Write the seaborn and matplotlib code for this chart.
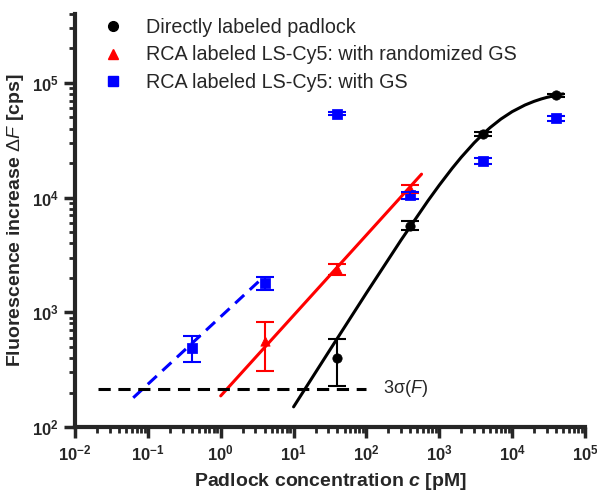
import numpy as np
import pandas as pd
import matplotlib
matplotlib.use("Agg")
import matplotlib.pyplot as plt
import seaborn as sns

# measured points
direct_c = [40, 400, 4000, 40000]
direct_f = [400, 5700, 36000, 78000]
direct_lo = [230, 5200, 34500, 75500]
direct_hi = [580, 6200, 37500, 80500]

rand_c = [4, 40, 400]
rand_f = [560, 2400, 12000]
rand_lo = [310, 2100, 11000]
rand_hi = [830, 2650, 13000]

gs_c = [0.4, 4, 40, 400, 4000, 40000]
gs_f = [490, 1800, 54000, 10500, 21000, 49000]
gs_lo = [370, 1550, 52000, 9800, 19800, 46500]
gs_hi = [620, 2050, 56000, 11200, 22200, 51500]

# fit curves
direct_fit_c = [10, 30, 100, 300, 700, 1000, 1500, 2000, 3000, 4000, 5000, 7000,
                10000, 15000, 20000, 25000, 30000, 40000, 50000]
direct_fit_f = [150, 448, 1475, 4286, 9400, 12850, 17990, 22480, 29960, 35940, 40840, 48360,
                56120, 64110, 69030, 72360, 74760, 78000, 80080]
rand_fit_c = [1.0, 570]
rand_fit_f = [187, 16000]
gs_fit_c = [0.063, 3.3]
gs_fit_f = [180, 1850]
thr_c = [0.021, 100]
thr_f = [215, 215]

sns.set_style("ticks")
plt.rcParams['font.family'] = ['Liberation Sans', 'DejaVu Sans']
plt.rcParams['mathtext.fontset'] = 'custom'
plt.rcParams['mathtext.rm'] = 'Liberation Sans'
plt.rcParams['mathtext.it'] = 'Liberation Sans:italic'
plt.rcParams['mathtext.bf'] = 'Liberation Sans:bold'
plt.rcParams['mathtext.bfit'] = 'Liberation Sans:bold:italic'

fig = plt.figure(figsize=(5.97, 4.92), dpi=100)
ax = fig.add_axes([0.1256, 0.132, 0.8544, 0.84])
ax.set_xscale('log')
ax.set_yscale('log')

sns.lineplot(x=direct_fit_c, y=direct_fit_f, color='black', lw=2.2, ax=ax, sort=False)
sns.lineplot(x=rand_fit_c, y=rand_fit_f, color='red', lw=2.2, ax=ax)
ax.plot(gs_fit_c, gs_fit_f, color='blue', lw=2.2, ls=(0, (4, 2.5)))
ax.plot(thr_c, thr_f, color='black', lw=2.2, ls=(0, (4, 2.5)))
ax.text(170, 215, '3σ($F$)', fontsize=13, va='center', ha='left')

sets = [
    (direct_c, direct_f, direct_lo, direct_hi, 'black', 'o', 'Directly labeled padlock'),
    (rand_c, rand_f, rand_lo, rand_hi, 'red', '^', 'RCA labeled LS-Cy5: with randomized GS'),
    (gs_c, gs_f, gs_lo, gs_hi, 'blue', 's', 'RCA labeled LS-Cy5: with GS'),
]
handles = []
for c, f, lo, hi, col, mk, lab in sets:
    f = np.array(f)
    yerr = [f - np.array(lo), np.array(hi) - f]
    ax.errorbar(c, f, yerr=yerr, fmt='none', ecolor=col, elinewidth=1.5, capsize=6.5, capthick=1.5)
    df = pd.DataFrame({'c': c, 'f': f})
    sns.scatterplot(data=df, x='c', y='f', color=col, marker=mk, s=45, edgecolor=col, ax=ax)
    handles.append(plt.Line2D([], [], color=col, marker=mk, ls='none', markersize=7, label=lab))

ax.legend(handles=handles, loc='upper left', bbox_to_anchor=(0.012, 1.018), frameon=False,
          fontsize=14.2, handletextpad=0.7, labelspacing=0.42, borderaxespad=0.2)

ax.set_xlim(1e-2, 1e5)
ax.set_ylim(1e2, 4e5)
ax.set_xticks([10.0**k for k in range(-2, 6)])
ax.set_yticks([1e2, 1e3, 1e4, 1e5])
ax.set_xticklabels([f'$\\mathbf{{10^{{{k}}}}}$' for k in range(-2, 6)])
ax.set_yticklabels([f'$\\mathbf{{10^{{{k}}}}}$' for k in range(2, 6)])

for s in ['top', 'right']:
    ax.spines[s].set_visible(False)
for s in ['left', 'bottom']:
    ax.spines[s].set_linewidth(3)
ax.tick_params(which='major', length=8, width=2.5, labelsize=12, direction='out')
ax.tick_params(which='minor', length=4, width=2, direction='out')

ax.set_xlabel(r'Padlock concentration $\mathbfit{c}$ [pM]', fontsize=14, fontweight='bold', labelpad=6)
ax.set_ylabel(r'Fluorescence increase $\Delta F$ [cps]', fontsize=14, fontweight='bold', labelpad=4)

fig.savefig('out.png', dpi=100)
